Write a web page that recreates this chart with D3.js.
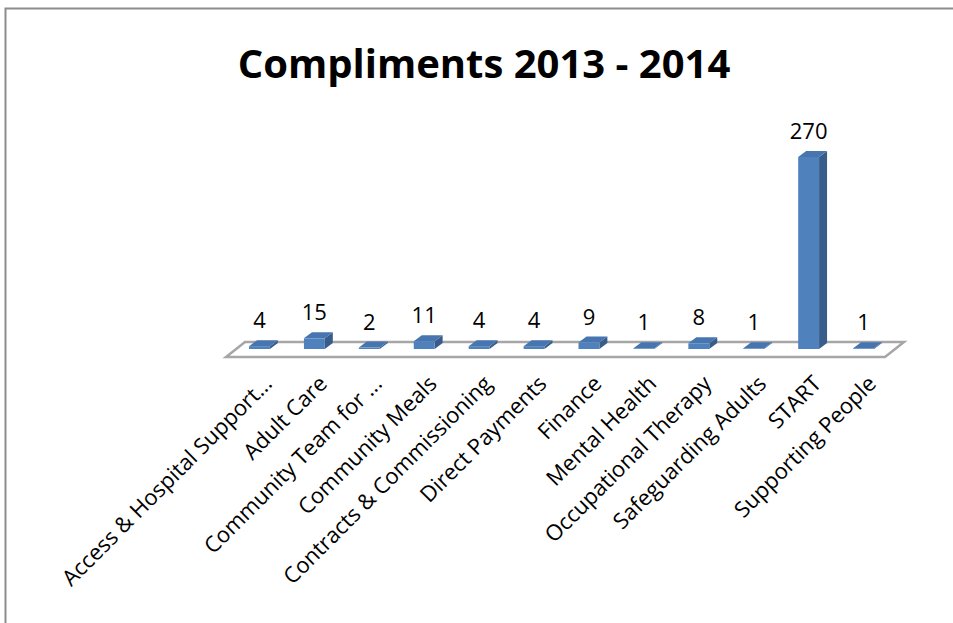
<!DOCTYPE html>
<html>
<head>
<meta charset="utf-8">
<script src="https://cdn.jsdelivr.net/npm/d3@7"></script>
<style>
  body { margin: 0; background: #fff; }
  svg text { font-family: "Open Sans", "DejaVu Sans", sans-serif; fill: #000; }
</style>
</head>
<body>
<div class="draw"></div>
<script>
var title = 'Compliments 2013 - 2014';
var categories = [
  'Access & Hospital Support...', 'Adult Care', 'Community Team for ...',
  'Community Meals', 'Contracts & Commissioning', 'Direct Payments',
  'Finance', 'Mental Health', 'Occupational Therapy',
  'Safeguarding Adults', 'START', 'Supporting People'
];
var values = [4, 15, 2, 11, 4, 4, 9, 1, 8, 1, 270, 1];

var size = {w: 953, h: 623};
// floor front edge and 3d depth
var floor = {x0: 226, x1: 885, y: 357, dx: 19, dy: 15};
var depth = {dx: 8, dy: 6};

var svg = d3.select('.draw').append('svg')
  .attr('width', size.w)
  .attr('height', size.h);

// outer frame
svg.append('rect')
  .attr('x', 5.5).attr('y', 8.5)
  .attr('width', size.w + 20).attr('height', size.h + 20)
  .attr('fill', '#fff')
  .attr('stroke', '#8c8c8c')
  .attr('stroke-width', 2);

svg.append('text')
  .attr('x', 484)
  .attr('y', 78)
  .attr('text-anchor', 'middle')
  .style('font-size', '40px')
  .style('font-weight', 'bold')
  .text(title);

var x = d3.scaleBand()
  .domain(categories)
  .range([floor.x0 + 6, floor.x1 + 6])
  .paddingInner(0.62)
  .paddingOuter(0.31);

var baseY = floor.y - floor.dy / 2 - 0.5;
var y = d3.scaleLinear()
  .domain([0, 270])
  .range([baseY, 157]);

// floor
var fp = [
  [floor.x0, floor.y], [floor.x1, floor.y],
  [floor.x1 + floor.dx, floor.y - floor.dy], [floor.x0 + floor.dx, floor.y - floor.dy]
];
svg.append('polygon')
  .attr('points', fp.map(function(p) { return p.join(','); }).join(' '))
  .attr('fill', '#fff')
  .attr('stroke', '#a6a6a6')
  .attr('stroke-width', 2.5)
  .attr('stroke-linejoin', 'miter');

// bars
var bars = svg.append('g').selectAll('g').data(categories).enter().append('g');
bars.each(function(c, i) {
  var g = d3.select(this);
  var x0 = x(c), x1 = x(c) + x.bandwidth();
  var top = y(values[i]);
  var dx = depth.dx, dy = depth.dy;
  // side
  g.append('polygon')
    .attr('points', [[x1, baseY], [x1 + dx, baseY - dy], [x1 + dx, top - dy], [x1, top]].map(function(p) { return p.join(','); }).join(' '))
    .attr('fill', '#385d8a');
  // top
  g.append('polygon')
    .attr('points', [[x0, top], [x1, top], [x1 + dx, top - dy], [x0 + dx, top - dy]].map(function(p) { return p.join(','); }).join(' '))
    .attr('fill', '#4675b0');
  // front
  g.append('rect')
    .attr('x', x0).attr('y', top)
    .attr('width', x1 - x0).attr('height', baseY - top)
    .attr('fill', '#4f81bd');
});

// value labels
svg.append('g').selectAll('text').data(categories).enter().append('text')
  .attr('x', function(c) { return x(c) + x.bandwidth() / 2; })
  .attr('y', function(c, i) { return y(values[i]) - depth.dy - 12; })
  .attr('text-anchor', 'middle')
  .style('font-size', '22px')
  .text(function(c, i) { return values[i]; });

// category labels
svg.append('g').selectAll('text').data(categories).enter().append('text')
  .attr('transform', function(c) {
    return 'translate(' + [x(c) + x.bandwidth() / 2 + 14, 385].join(',') + ') rotate(-45)';
  })
  .attr('text-anchor', 'end')
  .style('font-size', '22px')
  .text(function(c) { return c; });
</script>
</body>
</html>
